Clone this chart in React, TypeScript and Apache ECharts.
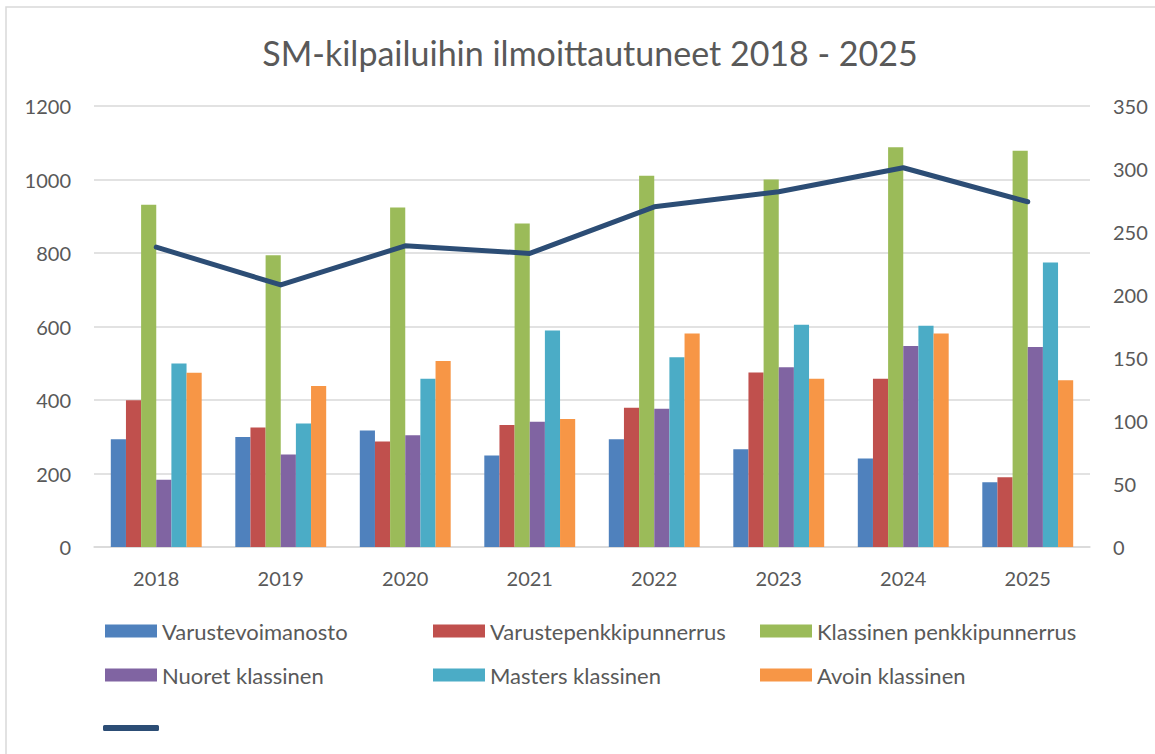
import React, { useEffect, useRef } from "react";
import * as echarts from "echarts";

const years = ["2018", "2019", "2020", "2021", "2022", "2023", "2024", "2025"];
const varustevoimanosto = [293, 299, 317, 249, 293, 266, 241, 176];
const varustepenkkipunnerrus = [399, 325, 287, 332, 379, 475, 458, 190];
const klassinenPenkki = [931, 794, 924, 880, 1010, 1000, 1088, 1078];
const nuoretKlassinen = [183, 252, 304, 341, 376, 489, 547, 544];
const mastersKlassinen = [499, 336, 458, 589, 516, 605, 602, 774];
const avoinKlassinen = [474, 438, 506, 348, 581, 458, 581, 454];
const totalLine = [238, 208, 239, 233, 270, 282, 301, 274];

const barNames = [
  "Varustevoimanosto",
  "Varustepenkkipunnerrus",
  "Klassinen penkkipunnerrus",
  "Nuoret klassinen",
  "Masters klassinen",
  "Avoin klassinen",
];
const barData = [
  varustevoimanosto,
  varustepenkkipunnerrus,
  klassinenPenkki,
  nuoretKlassinen,
  mastersKlassinen,
  avoinKlassinen,
];
const colors = ["#4f81bd", "#c0504d", "#9bbb59", "#8064a2", "#4bacc6", "#f79646"];
const lineName = " ";
const lineColor = "#2c4d75";

const FONT = "Lato, 'Open Sans', sans-serif";
const TXT = "#595959";

export default function App() {
  const ref = useRef<HTMLDivElement>(null);
  useEffect(() => {
    if (!ref.current) return;
    const chart = echarts.init(ref.current, undefined, { renderer: "svg" });
    const legendPos = [
      { left: 105, top: 620 },
      { left: 433, top: 620 },
      { left: 760, top: 620 },
      { left: 105, top: 664 },
      { left: 433, top: 664 },
      { left: 760, top: 664 },
    ];
    const legends: any[] = barNames.map((n, i) => ({
      data: [n],
      left: legendPos[i].left,
      top: legendPos[i].top,
      itemWidth: 52,
      itemHeight: 13,
      itemGap: 5,
      icon: "rect",
      padding: 0,
      textStyle: { color: TXT, fontSize: 22, fontFamily: FONT, padding: [0, 0, 0, 0] },
    }));
    legends.push({
      data: [{ name: lineName, icon: "roundRect" }],
      left: 103,
      top: 718,
      itemWidth: 56,
      itemHeight: 6,
      padding: 0,
      itemStyle: { color: lineColor },
      lineStyle: { width: 0 },
      textStyle: { color: TXT, fontSize: 20, fontFamily: FONT },
    });
    const series: any[] = barNames.map((n, i) => ({
      name: n,
      type: "bar",
      data: barData[i],
      yAxisIndex: 0,
      barGap: "0%",
      barCategoryGap: "27%",
      itemStyle: { color: colors[i] },
    }));
    series.push({
      name: lineName,
      type: "line",
      data: totalLine,
      yAxisIndex: 1,
      symbol: "none",
      lineStyle: { color: lineColor, width: 5, cap: "round", join: "round" },
      itemStyle: { color: lineColor },
    });
    chart.setOption({
      animation: false,
      backgroundColor: "#ffffff",
      textStyle: { fontFamily: FONT },
      title: {
        text: "SM-kilpailuihin ilmoittautuneet 2018 - 2025",
        left: 585,
        textAlign: "center",
        top: 30,
        textStyle: { color: TXT, fontSize: 34, fontWeight: "normal", fontFamily: FONT },
      },
      graphic: [
        {
          type: "rect",
          shape: { x: 6, y: 7, width: 1170, height: 780 },
          style: { fill: "none", stroke: "#d9d9d9", lineWidth: 1.5 },
          silent: true,
        },
      ],
      legend: legends,
      grid: { left: 94, right: 65, top: 106, bottom: 207, containLabel: false },
      xAxis: {
        type: "category",
        data: years,
        axisLine: { lineStyle: { color: "#d9d9d9", width: 1.5 } },
        axisTick: { show: false },
        axisLabel: { color: TXT, fontSize: 20, fontFamily: FONT, margin: 21 },
      },
      yAxis: [
        {
          type: "value",
          min: 0,
          max: 1200,
          interval: 200,
          axisLine: { show: false },
          axisTick: { show: false },
          splitLine: { lineStyle: { color: "#d9d9d9", width: 1.5 } },
          axisLabel: {
            color: TXT,
            fontSize: 20,
            fontFamily: FONT,
            margin: 23,
            formatter: (v: number) => String(v),
          },
        },
        {
          type: "value",
          min: 0,
          max: 350,
          interval: 50,
          axisLine: { show: false },
          axisTick: { show: false },
          splitLine: { show: false },
          axisLabel: {
            color: TXT,
            fontSize: 20,
            fontFamily: FONT,
            margin: 23,
            formatter: (v: number) => String(v),
          },
        },
      ],
      series,
    });
    return () => chart.dispose();
  }, []);
  return (
    <div
      ref={ref}
      style={{ position: "fixed", left: 0, top: 0, width: 1155, height: 754, background: "#fff" }}
    />
  );
}
